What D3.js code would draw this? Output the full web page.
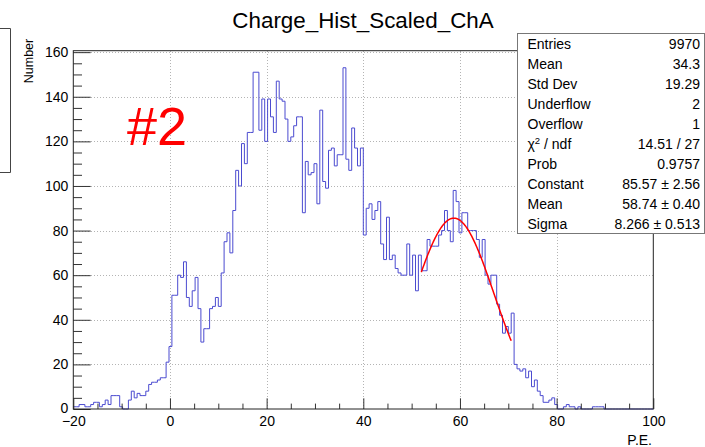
<!DOCTYPE html>
<html><head><meta charset="utf-8">
<script src="https://cdn.jsdelivr.net/npm/d3@7"></script>
<style>
html,body{margin:0;padding:0;background:#fff;}
svg{display:block;font-family:"Liberation Sans",Arial,Helvetica,sans-serif;}
</style></head><body>
<svg id="c" width="705" height="447"></svg>
<script>
// ---- data ----
const chartTitle = "Charge_Hist_Scaled_ChA";
const xTitle = "P.E.";
const yTitle = "Number";
const binLow = -20, binHigh = 100;
const counts = [
  1,1,2,2,1,1,2,3,3,1,2,4,2,6,6,6,1,0,0,4,8,5,7,6,6,8,11,12,12,13,14,14,21,28,
  51,51,60,59,66,50,46,53,59,45,30,36,36,45,46,50,46,61,75,79,70,89,107,100,119,110,124,124,151,151,125,139,120,
  139,131,124,147,139,138,130,120,122,127,131,131,88,111,105,106,110,92,134,102,99,116,117,109,114,114,153,112,107,126,117,109,117,
  78,90,92,85,89,93,74,67,86,67,69,63,61,60,60,74,60,69,53,69,62,62,76,73,73,73,78,80,89,80,75,
  98,93,79,88,88,80,80,80,76,68,76,60,56,60,60,47,42,34,37,34,43,
  20,18,17,18,14,17,10,13,8,6,3,3,4,5,2,
  0,0,1,2,1,1,0,1,0,0,0,0,1,1,1,1,0,0,0,0,0,0,0,0,0,0,0,0,0,0,0,0,0
];
const xTicks = [-20,0,20,40,60,80,100];
const yTicks = [0,20,40,60,80,100,120,140,160];
const statLabels = ["Entries","Mean","Std Dev","Underflow","Overflow","χ² / ndf","Prob","Constant","Mean","Sigma"];
const statValues = ["9970","34.3","19.29","2","1","14.51 / 27","0.9757","85.57 ± 2.56","58.74 ± 0.40","8.266 ± 0.513"];
const fitConstant = 85.57, fitMean = 58.74, fitSigma = 8.266;
const fitRange = [52.0, 70.6];
const padLabel = "#2";

// ---- layout ----
const fx0 = 73.3, fx1 = 653.3, fy0 = 50.7, fy1 = 409;
const svg = d3.select("#c");
const binW = (binHigh - binLow) / counts.length;
const ymax = d3.max(counts) * 1.05;
const x = d3.scaleLinear().domain([binLow, binHigh]).range([fx0, fx1]);
const y = d3.scaleLinear().domain([0, ymax]).range([fy1, fy0]);

// grid
const grid = svg.append("g").attr("stroke", "#b4b4b4").attr("stroke-dasharray", "1,2").attr("stroke-width", 1).attr("shape-rendering","crispEdges");
xTicks.filter(t => t > binLow && t < binHigh).forEach(t => {
  grid.append("line").attr("x1", Math.round(x(t))+0.5).attr("x2", Math.round(x(t))+0.5).attr("y1", fy0).attr("y2", fy1);
});
yTicks.filter(t => t > 0).forEach(t => {
  grid.append("line").attr("x1", fx0).attr("x2", fx1).attr("y1", Math.round(y(t))+0.5).attr("y2", Math.round(y(t))+0.5);
});

// histogram
const pts = [];
counts.forEach((c, i) => {
  const a = binLow + i * binW;
  pts.push([a, c]); pts.push([a + binW, c]);
});
svg.append("path").datum(pts)
  .attr("d", d3.line().x(d => x(d[0])).y(d => y(d[1])))
  .attr("fill", "none").attr("stroke", "#4b4bd0").attr("stroke-width", 1);

// fit
const fitPts = d3.range(fitRange[0], fitRange[1] + 1e-9, 0.1).map(v => [v, fitConstant * Math.exp(-0.5 * Math.pow((v - fitMean) / fitSigma, 2))]);
svg.append("path").datum(fitPts)
  .attr("d", d3.line().x(d => x(d[0])).y(d => y(d[1])))
  .attr("fill", "none").attr("stroke", "#ff0000").attr("stroke-width", 1.5);

// axes
const minorX = d3.range(binLow, binHigh + 0.001, 5).filter(v => xTicks.indexOf(v) < 0);
const minorY = d3.range(0, ymax, 5).filter(v => yTicks.indexOf(v) < 0);
const gx = svg.append("g").attr("transform", `translate(0,${fy1})`)
  .call(d3.axisBottom(x).tickValues(xTicks).tickSizeInner(-10.7).tickSizeOuter(0).tickPadding(7)
    .tickFormat(d => d < 0 ? "\u2212" + Math.abs(d) : d));
gx.select(".domain").remove();
gx.selectAll("text").attr("font-size", 14).attr("font-family", "Liberation Sans, Arial, sans-serif").attr("fill", "#000");
gx.selectAll("line").attr("stroke", "#333");
const gxm = svg.append("g").attr("transform", `translate(0,${fy1})`)
  .call(d3.axisBottom(x).tickValues(minorX).tickSizeInner(-5.4).tickSizeOuter(0).tickFormat(""));
gxm.select(".domain").remove();
gxm.selectAll("line").attr("stroke", "#333");

const gy = svg.append("g").attr("transform", `translate(${fx0},0)`)
  .call(d3.axisLeft(y).tickValues(yTicks).tickSizeInner(-17.4).tickSizeOuter(0).tickPadding(5));
gy.select(".domain").remove();
gy.selectAll("text").attr("font-size", 14).attr("font-family", "Liberation Sans, Arial, sans-serif").attr("fill", "#000");
gy.selectAll("text").filter(d => d === 0).attr("dy", "0.25em");
gy.selectAll("line").attr("stroke", "#333");
const gym = svg.append("g").attr("transform", `translate(${fx0},0)`)
  .call(d3.axisLeft(y).tickValues(minorY).tickSizeInner(-8.7).tickSizeOuter(0).tickFormat(""));
gym.select(".domain").remove();
gym.selectAll("line").attr("stroke", "#333");

// frame
svg.append("rect").attr("x", fx0).attr("y", fy0).attr("width", fx1 - fx0).attr("height", fy1 - fy0)
  .attr("fill", "none").attr("stroke", "#222").attr("stroke-width", 1);

// titles
svg.append("text").attr("x", 363).attr("y", 28).attr("text-anchor", "middle")
  .attr("font-size", 22.4).text(chartTitle);
svg.append("text").attr("x", 652).attr("y", 445).attr("text-anchor", "end")
  .attr("font-size", 14).text(xTitle);
svg.append("text").attr("transform", `translate(33,61) rotate(-90)`).attr("text-anchor", "middle")
  .attr("font-size", 12.5).text(yTitle);

// pad label
svg.append("text").attr("x", 127).attr("y", 145).attr("fill", "#ff0000")
  .attr("font-size", 54).text(padLabel);

// partial box at left edge
svg.append("path").attr("d", "M0,28.5H10.5V172.5H0").attr("fill", "none").attr("stroke", "#444").attr("stroke-width", 1);

// stats box
const bx = 517, by = 33, bw = 187, bh = 200;
svg.append("rect").attr("x", bx + 0.5).attr("y", by + 0.5).attr("width", bw).attr("height", bh)
  .attr("fill", "#fff").attr("stroke", "#777").attr("stroke-width", 1);
const rowH = bh / statLabels.length;
statLabels.forEach((lab, i) => {
  const cy = by + rowH * (i + 0.5) + 5.5;
  const t = svg.append("text").attr("x", bx + 10.5).attr("y", cy).attr("font-size", 14);
  if (lab.indexOf("²") >= 0) {
    const parts = lab.split("²");
    t.append("tspan").text(parts[0]);
    t.append("tspan").attr("dy", -5).attr("font-size", 9.5).text("2");
    t.append("tspan").attr("dy", 5).text(parts[1]);
  } else t.text(lab);
  svg.append("text").attr("x", bx + 183).attr("y", cy).attr("text-anchor", "end").attr("font-size", 14).text(statValues[i]);
});
</script>
</body></html>
